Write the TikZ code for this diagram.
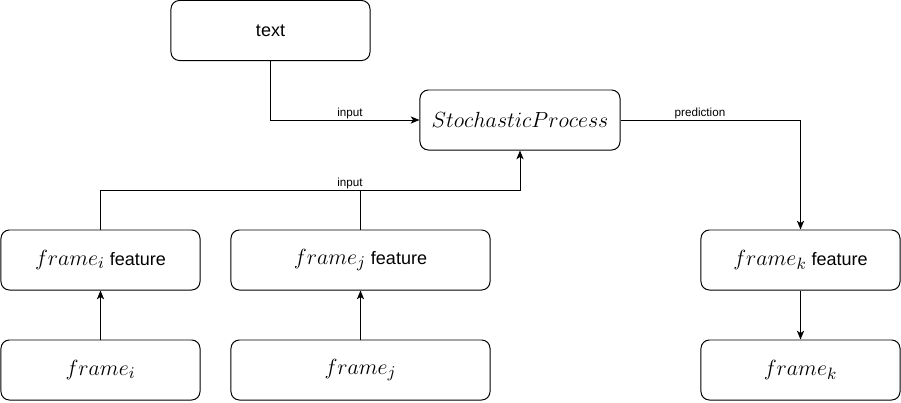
\documentclass[tikz,border=0pt]{standalone}
\usepackage{amsmath}
\usepackage{graphicx}
\usepackage{fontspec}
\setmainfont{Liberation Sans}
\usepackage{tikz}
\usetikzlibrary{arrows.meta,positioning}
\newcommand{\mth}[1]{\scalebox{1.3}{$#1$}}
\tikzset{
  block/.style={draw, rounded corners=6pt, fill=white, line width=0.7pt, minimum width=4.975cm, minimum height=1.5cm, align=center, font=\fontsize{12.8}{15}\selectfont},
  wideblock/.style={block, minimum width=6.475cm},
  flow/.style={-{Stealth[length=2.2mm, width=1.8mm, inset=0.6mm]}, line width=0.7pt},
  link/.style={line width=0.7pt},
  edgelabel/.style={anchor=south, inner sep=0.6pt, font=\fontsize{8.3}{10}\selectfont}
}

\begin{document}
\begin{tikzpicture}[x=0.025cm,y=-0.025cm]
  \useasboundingbox (0,0) rectangle (901,402);

  \node[block] (txt) at (270.5,30.5) {text};
  \node[block, minimum width=5cm] (sp) at (520,120) {\mth{StochasticProcess}};

  \node[block] (fif) at (100.5,260) {\mth{frame_i} feature};
  \node[wideblock] (fjf) at (360.5,260) {\mth{frame_j} feature};
  \node[block] (fkf) at (800.5,260) {\mth{frame_k} feature};

  \node[block] (fi) at (100.5,370) {\mth{frame_i}};
  \node[wideblock] (fj) at (360.5,370) {\mth{frame_j}};
  \node[block] (fk) at (800.5,370) {\mth{frame_k}};

  \coordinate (merge) at (520,190);

  \draw[flow] (txt.south) |- (sp.west);
  \draw[flow] (fif.north) |- (merge) -- (sp.south);
  \draw[link] (fjf.north) -- (fjf.north |- merge);
  \draw[flow] (sp.east) -| (fkf.north);

  \draw[flow] (fi.north) -- (fif.south);
  \draw[flow] (fj.north) -- (fjf.south);
  \draw[flow] (fkf.south) -- (fk.north);

  \node[edgelabel] (lblin) at (350,120) {input};
  \node[edgelabel] (lblfr) at (350,190) {input};
  \node[edgelabel] (lblpr) at (700,120) {prediction};
\end{tikzpicture}
\end{document}
